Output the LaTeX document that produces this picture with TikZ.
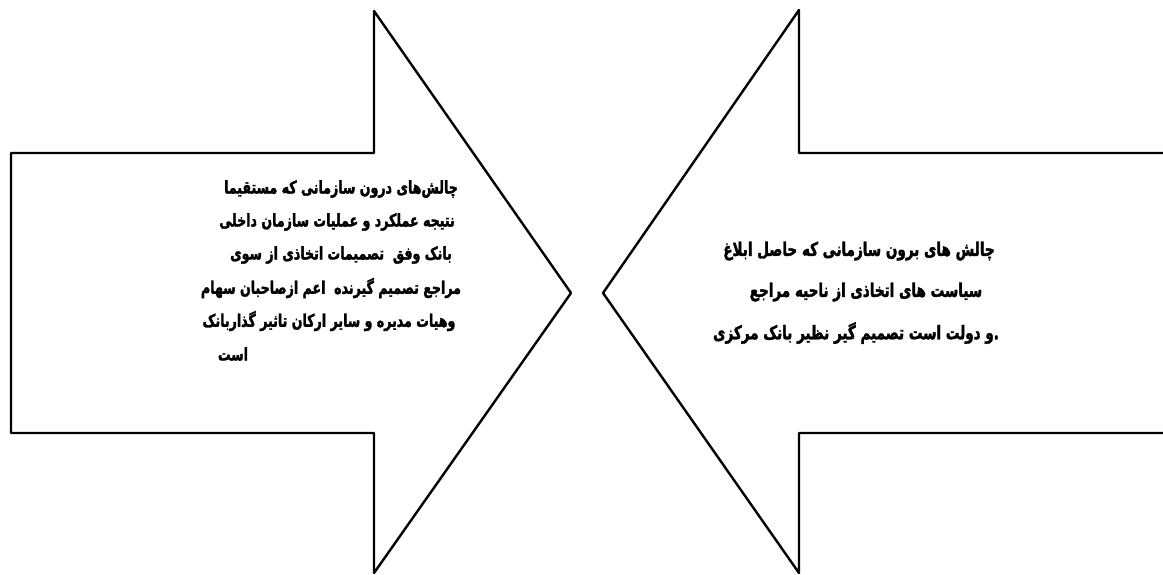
\documentclass[tikz,border=0pt]{standalone}
\usepackage{fontspec}
\newfontfamily\arabicfont[Script=Arabic,FakeStretch=0.72,FakeBold=1.8]{DejaVu Sans}
\TeXXeTstate=1
\tikzset{
  arrowshape/.style={draw=black, line width=2.4pt, line join=round, fill=white},
  txt/.style={inner sep=0pt, font=\arabicfont\bfseries\fontsize{17.5}{20}\selectfont},
  rtxt/.style={txt, font=\arabicfont\bfseries\fontsize{18.8}{21}\selectfont}
}
\begin{document}
\begin{tikzpicture}[x=1pt,y=-1pt]
\useasboundingbox (0,0) rectangle (1163,574);
% left arrow
\draw[arrowshape] (11,153) -- (374,153) -- (374,11) -- (571,293) -- (374,573) -- (374,433) -- (11,433) -- cycle;
% right arrow
\draw[arrowshape] (1170,153) -- (799,153) -- (799,10) -- (603,293) -- (799,573) -- (799,433) -- (1170,433);
% left text
\node[txt] (l1) at (341,189) {\beginR چالش‌های درون سازمانی که مستقیما\endR};
\node[txt] (l2) at (337,222) {\beginR نتیجه عملکرد و عملیات سازمان داخلی\endR};
\node[txt] (l3) at (341,255) {\beginR بانک وفق\ \ تصمیمات اتخاذی از سوی\endR};
\node[txt] (l4) at (331,288) {\beginR مراجع تصمیم گیرنده\ \ اعم ازصاحبان سهام\endR};
\node[txt] (l5) at (329,321) {\beginR وهیات مدیره و سایر ارکان تاثیر گذاربانک\endR};
\node[txt] (l6) at (233,354) {\beginR است\endR};
% right text
\node[rtxt] (r1) at (859,251) {\beginR چالش های برون سازمانی که حاصل ابلاغ\endR};
\node[rtxt] (r2) at (866,292) {\beginR سیاست های اتخاذی از ناحیه مراجع\endR};
\node[rtxt] (r3) at (856,333) {\beginR .و دولت است تصمیم گیر نظیر بانک مرکزی\endR};
\end{tikzpicture}
\end{document}
